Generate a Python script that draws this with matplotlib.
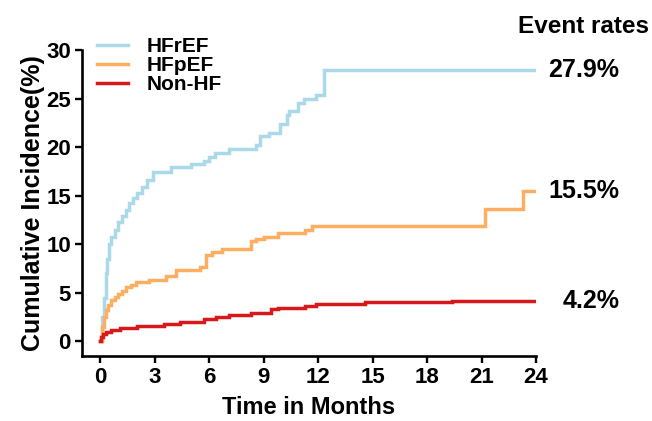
import matplotlib.pyplot as plt

plt.rcParams['font.family'] = ['Liberation Sans', 'DejaVu Sans']
plt.rcParams['font.weight'] = 'bold'

# months / cumulative incidence (%)
hfref_t = [0, 0.1, 0.2, 0.3, 0.4, 0.5, 0.6, 0.8, 1.0, 1.2, 1.4, 1.6, 1.8, 2.0, 2.3, 2.6, 2.9,
           3.9, 5.0, 5.7, 6.0, 6.3, 7.1, 8.6, 8.8, 9.3, 9.9, 10.3, 10.4, 10.9, 11.2, 11.9, 12.3, 24]
hfref_y = [0, 2.5, 4.5, 7.0, 8.5, 10.0, 10.8, 11.5, 12.3, 12.9, 13.5, 14.2, 14.8, 15.3, 15.9, 16.6, 17.4,
           18.0, 18.3, 18.6, 19.0, 19.4, 19.8, 20.2, 21.1, 21.5, 22.4, 23.3, 23.7, 24.5, 25.0, 25.4, 27.9, 27.9]

hfpef_t = [0, 0.1, 0.2, 0.3, 0.45, 0.6, 0.8, 1.0, 1.2, 1.4, 1.7, 1.95, 2.7, 3.6, 4.2, 5.5, 5.8, 6.15,
           6.7, 8.3, 8.6, 9.0, 9.8, 11.3, 11.65, 21.2, 23.3, 24]
hfpef_y = [0, 1.5, 2.5, 3.2, 3.8, 4.3, 4.6, 4.9, 5.2, 5.6, 5.8, 6.1, 6.3, 6.7, 7.4, 7.7, 8.9, 9.2,
           9.5, 10.3, 10.5, 10.8, 11.2, 11.5, 11.9, 13.6, 15.5, 15.5]

nonhf_t = [0, 0.05, 0.15, 0.3, 0.6, 1.1, 2.0, 3.5, 4.4, 5.7, 6.4, 7.1, 8.3, 9.4, 9.8, 11.3, 11.9, 14.6, 19.4, 24]
nonhf_y = [0, 0.5, 0.8, 1.0, 1.2, 1.4, 1.6, 1.8, 2.0, 2.3, 2.5, 2.7, 2.95, 3.3, 3.4, 3.65, 3.85, 4.05, 4.2, 4.2]

labels = ['HFrEF', 'HFpEF', 'Non-HF']
colors = ['#abd9e9', '#fdae61', '#d7191c']
rates = ['27.9%', '15.5%', '4.2%']

fig = plt.figure(figsize=(6.52, 4.21), dpi=100)
ax = fig.add_axes([0.1258, 0.1544, 0.6963, 0.7268])

series = [(hfref_t, hfref_y), (hfpef_t, hfpef_y), (nonhf_t, nonhf_y)]
for (t, y), lab, c in zip(series, labels, colors):
    ax.plot(t, y, drawstyle='steps-post', color=c, lw=2.5, label=lab, solid_joinstyle='miter')

# event rate labels at the right of each curve
for (t, y), r in zip(series, rates):
    ax.text(28.6, y[-1], r, ha='right', va='center', fontsize=18, fontweight='bold', clip_on=False)
ax.text(26.6, 32.4, 'Event rates', ha='center', va='center', fontsize=17.5, fontweight='bold', clip_on=False)

ax.set_xlim(-1, 24)
ax.set_ylim(-1.5, 30)
ax.set_xticks(range(0, 25, 3))
ax.set_yticks(range(0, 31, 5))
ax.spines['top'].set_visible(False)
ax.spines['right'].set_visible(False)
for s in ['left', 'bottom']:
    ax.spines[s].set_linewidth(1.9)
ax.tick_params(width=1.7, length=5, labelsize=16, pad=3)
for lbl in ax.get_xticklabels() + ax.get_yticklabels():
    lbl.set_fontweight('bold')

ax.set_xlabel('Time in Months', fontsize=17, fontweight='bold', labelpad=6)
ax.set_ylabel('Cumulative Incidence(%)', fontsize=18, fontweight='bold', labelpad=1)

ax.legend(loc='upper left', bbox_to_anchor=(0.0, 1.09), frameon=False, fontsize=15,
          handlelength=1.5, handletextpad=0.9, labelspacing=0.0, borderaxespad=0.3)

fig.savefig('out.png', dpi=100)
